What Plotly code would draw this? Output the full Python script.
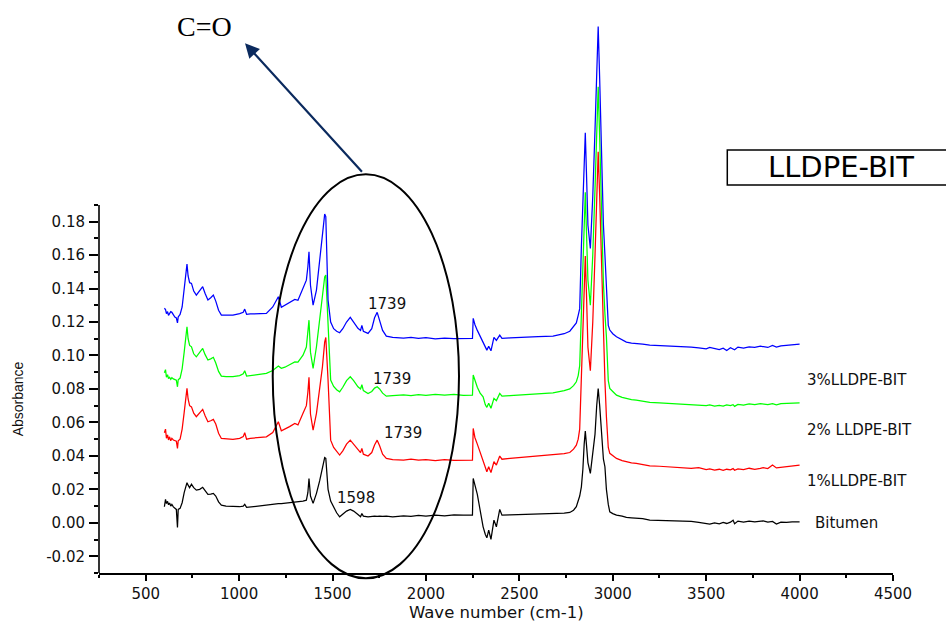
import plotly.graph_objects as go

# ---------------- data ----------------
wavenumber = [600, 606, 611, 617, 622, 628, 634, 640, 648, 656, 664, 670, 674, 684, 695, 706, 716, 721, 727, 735,
              745, 757, 771, 789, 805, 818, 833, 848, 862, 875, 890, 905, 930, 967, 1003, 1022, 1030, 1040, 1060, 1092,
              1146, 1180, 1200, 1210, 1226, 1245, 1270, 1298, 1315, 1342, 1360, 1368, 1374, 1382, 1396, 1414, 1431, 1446, 1458, 1464,
              1476, 1490, 1506, 1522, 1538, 1555, 1575, 1595, 1613, 1636, 1650, 1657, 1665, 1690, 1710, 1725, 1739, 1752, 1768, 1788,
              1822, 1880, 1920, 1960, 2000, 2050, 2100, 2150, 2200, 2249, 2253, 2262, 2275, 2290, 2306, 2318, 2326, 2336, 2348, 2364,
              2377, 2395, 2407, 2450, 2520, 2600, 2680, 2740, 2770, 2790, 2805, 2815, 2823, 2832, 2840, 2847, 2853, 2859, 2867, 2880,
              2893, 2905, 2914, 2922, 2930, 2940, 2950, 2958, 2966, 2976, 2984, 3000, 3020, 3050, 3073, 3100, 3126, 3160, 3198, 3250,
              3300, 3376, 3420, 3460, 3500, 3519, 3545, 3570, 3591, 3610, 3630, 3644, 3652, 3670, 3700, 3730, 3760, 3790, 3805, 3830,
              3855, 3876, 3900, 3930, 3960, 4000]

bitumen = [0.0096, 0.0140, 0.0115, 0.0128, 0.0108, 0.0118, 0.0100, 0.0110, 0.0095, 0.0085, 0.0080, -0.0028, 0.0080, 0.0086, 0.0120, 0.0180, 0.0225, 0.0240, 0.0225, 0.0210,
           0.0230, 0.0210, 0.0195, 0.0200, 0.0212, 0.0195, 0.0170, 0.0172, 0.0176, 0.0160, 0.0125, 0.0106, 0.0100, 0.0098, 0.0096, 0.0100, 0.0110, 0.0092, 0.0095, 0.0100,
           0.0106, 0.0110, 0.0113, 0.0114, 0.0115, 0.0117, 0.0120, 0.0124, 0.0126, 0.0130, 0.0135, 0.0180, 0.0265, 0.0160, 0.0116, 0.0176, 0.0250, 0.0340, 0.0390, 0.0385,
           0.0200, 0.0130, 0.0090, 0.0060, 0.0036, 0.0050, 0.0070, 0.0080, 0.0070, 0.0050, 0.0036, 0.0055, 0.0040, 0.0036, 0.0040, 0.0040, 0.0038, 0.0040, 0.0038, 0.0040,
           0.0036, 0.0042, 0.0038, 0.0044, 0.0040, 0.0046, 0.0042, 0.0048, 0.0046, 0.0046, 0.0265, 0.0230, 0.0170, 0.0076, -0.0024, -0.0070, -0.0090, -0.0044, -0.0099, 0.0016,
           -0.0024, 0.0080, 0.0046, 0.0048, 0.0050, 0.0052, 0.0054, 0.0058, 0.0062, 0.0075, 0.0096, 0.0125, 0.0160, 0.0215, 0.0320, 0.0470, 0.0548, 0.0470, 0.0360, 0.0295,
           0.0400, 0.0530, 0.0700, 0.0803, 0.0700, 0.0560, 0.0380, 0.0335, 0.0200, 0.0110, 0.0066, 0.0055, 0.0046, 0.0040, 0.0032, 0.0030, 0.0028, 0.0025, 0.0016, 0.0014,
           0.0010, 0.0006, 0.0008, 0.0002, -0.0004, -0.0008, 0.0000, -0.0006, 0.0002, -0.0004, 0.0004, 0.0016, -0.0006, 0.0010, 0.0004, 0.0010, 0.0006, 0.0012, 0.0012, 0.0004,
           0.0008, -0.0008, 0.0004, 0.0002, 0.0006, 0.0006]

lldpe_1 = [0.0538, 0.0560, 0.0505, 0.0525, 0.0495, 0.0514, 0.0490, 0.0505, 0.0495, 0.0490, 0.0488, 0.0445, 0.0490, 0.0500, 0.0560, 0.0660, 0.0770, 0.0803, 0.0740, 0.0700,
           0.0693, 0.0655, 0.0634, 0.0655, 0.0678, 0.0640, 0.0604, 0.0610, 0.0618, 0.0590, 0.0535, 0.0504, 0.0500, 0.0498, 0.0505, 0.0515, 0.0538, 0.0500, 0.0505, 0.0508,
           0.0514, 0.0540, 0.0585, 0.0604, 0.0550, 0.0560, 0.0575, 0.0594, 0.0585, 0.0654, 0.0700, 0.0780, 0.0869, 0.0650, 0.0554, 0.0654, 0.0800, 0.0932, 0.1080, 0.1108,
           0.0853, 0.0494, 0.0450, 0.0425, 0.0405, 0.0430, 0.0470, 0.0494, 0.0470, 0.0435, 0.0420, 0.0445, 0.0410, 0.0399, 0.0420, 0.0465, 0.0494, 0.0460, 0.0410, 0.0385,
           0.0378, 0.0375, 0.0380, 0.0374, 0.0378, 0.0372, 0.0377, 0.0373, 0.0376, 0.0375, 0.0564, 0.0510, 0.0470, 0.0420, 0.0375, 0.0325, 0.0305, 0.0335, 0.0300, 0.0365,
           0.0345, 0.0399, 0.0380, 0.0385, 0.0392, 0.0398, 0.0405, 0.0413, 0.0420, 0.0440, 0.0464, 0.0500, 0.0560, 0.0850, 0.1150, 0.1450, 0.1594, 0.1380, 0.1050, 0.0909,
           0.1200, 0.1600, 0.2000, 0.2217, 0.1950, 0.1500, 0.1042, 0.0850, 0.0634, 0.0450, 0.0415, 0.0400, 0.0385, 0.0372, 0.0365, 0.0358, 0.0355, 0.0350, 0.0340, 0.0338,
           0.0334, 0.0328, 0.0325, 0.0330, 0.0318, 0.0322, 0.0315, 0.0320, 0.0313, 0.0320, 0.0316, 0.0324, 0.0314, 0.0322, 0.0318, 0.0326, 0.0320, 0.0325, 0.0330, 0.0324,
           0.0345, 0.0328, 0.0332, 0.0335, 0.0338, 0.0345]

lldpe_2 = [0.0897, 0.0915, 0.0870, 0.0885, 0.0862, 0.0870, 0.0858, 0.0868, 0.0860, 0.0855, 0.0852, 0.0813, 0.0855, 0.0865, 0.0920, 0.1020, 0.1130, 0.1172, 0.1100, 0.1060,
           0.1052, 0.1010, 0.0992, 0.1015, 0.1042, 0.1005, 0.0973, 0.0980, 0.0989, 0.0955, 0.0905, 0.0877, 0.0873, 0.0873, 0.0880, 0.0890, 0.0909, 0.0877, 0.0880, 0.0885,
           0.0893, 0.0910, 0.0930, 0.0937, 0.0923, 0.0930, 0.0945, 0.0962, 0.0960, 0.1002, 0.1050, 0.1130, 0.1211, 0.1020, 0.0923, 0.1052, 0.1220, 0.1351, 0.1470, 0.1481,
           0.1172, 0.0853, 0.0815, 0.0795, 0.0783, 0.0810, 0.0850, 0.0873, 0.0850, 0.0813, 0.0800, 0.0825, 0.0790, 0.0773, 0.0785, 0.0805, 0.0813, 0.0800, 0.0775, 0.0757,
           0.0760, 0.0764, 0.0760, 0.0766, 0.0762, 0.0768, 0.0763, 0.0767, 0.0762, 0.0763, 0.0883, 0.0850, 0.0810, 0.0775, 0.0753, 0.0705, 0.0690, 0.0715, 0.0684, 0.0744,
           0.0730, 0.0773, 0.0757, 0.0760, 0.0765, 0.0770, 0.0777, 0.0790, 0.0800, 0.0820, 0.0843, 0.0880, 0.0940, 0.1250, 0.1550, 0.1850, 0.1975, 0.1750, 0.1450, 0.1301,
           0.1600, 0.2000, 0.2400, 0.2606, 0.2300, 0.1850, 0.1431, 0.1250, 0.1112, 0.0850, 0.0803, 0.0785, 0.0763, 0.0750, 0.0742, 0.0736, 0.0733, 0.0728, 0.0720, 0.0717,
           0.0714, 0.0708, 0.0706, 0.0702, 0.0700, 0.0704, 0.0698, 0.0702, 0.0697, 0.0705, 0.0700, 0.0706, 0.0696, 0.0708, 0.0703, 0.0710, 0.0706, 0.0712, 0.0710, 0.0706,
           0.0712, 0.0705, 0.0712, 0.0714, 0.0716, 0.0717]

lldpe_3 = [0.1282, 0.1275, 0.1250, 0.1262, 0.1240, 0.1255, 0.1262, 0.1258, 0.1245, 0.1230, 0.1225, 0.1195, 0.1230, 0.1245, 0.1290, 0.1390, 0.1500, 0.1546, 0.1475, 0.1435,
           0.1431, 0.1385, 0.1361, 0.1385, 0.1411, 0.1370, 0.1331, 0.1345, 0.1361, 0.1325, 0.1270, 0.1241, 0.1240, 0.1241, 0.1250, 0.1258, 0.1277, 0.1246, 0.1248, 0.1250,
           0.1252, 0.1290, 0.1335, 0.1351, 0.1288, 0.1300, 0.1315, 0.1335, 0.1330, 0.1401, 0.1450, 0.1530, 0.1620, 0.1420, 0.1301, 0.1391, 0.1560, 0.1700, 0.1845, 0.1830,
           0.1331, 0.1200, 0.1160, 0.1145, 0.1136, 0.1160, 0.1200, 0.1228, 0.1200, 0.1162, 0.1150, 0.1180, 0.1145, 0.1132, 0.1160, 0.1225, 0.1258, 0.1215, 0.1150, 0.1116,
           0.1108, 0.1104, 0.1108, 0.1102, 0.1106, 0.1100, 0.1104, 0.1101, 0.1100, 0.1102, 0.1222, 0.1185, 0.1150, 0.1115, 0.1082, 0.1045, 0.1032, 0.1055, 0.1028, 0.1108,
           0.1090, 0.1122, 0.1102, 0.1105, 0.1110, 0.1112, 0.1116, 0.1130, 0.1145, 0.1170, 0.1195, 0.1240, 0.1280, 0.1650, 0.1950, 0.2200, 0.2331, 0.2100, 0.1780, 0.1640,
           0.1950, 0.2350, 0.2750, 0.2966, 0.2650, 0.2150, 0.1780, 0.1600, 0.1431, 0.1180, 0.1152, 0.1130, 0.1112, 0.1095, 0.1080, 0.1074, 0.1072, 0.1068, 0.1062, 0.1060,
           0.1057, 0.1052, 0.1050, 0.1046, 0.1040, 0.1048, 0.1040, 0.1035, 0.1044, 0.1030, 0.1046, 0.1040, 0.1034, 0.1050, 0.1044, 0.1052, 0.1048, 0.1056, 0.1052, 0.1048,
           0.1060, 0.1050, 0.1058, 0.1062, 0.1065, 0.1068]

series_names = ["Bitumen", "1%LLDPE-BIT", "2% LLDPE-BIT", "3%LLDPE-BIT"]
series_colors = ["#000000", "#FF0000", "#00FF00", "#0000FF"]

y_tick_values = [-0.02, 0.00, 0.02, 0.04, 0.06, 0.08, 0.10, 0.12, 0.14, 0.16, 0.18]
y_minor_values = [-0.03, -0.01, 0.01, 0.03, 0.05, 0.07, 0.09, 0.11, 0.13, 0.15, 0.17, 0.19]
x_tick_values = [500, 1000, 1500, 2000, 2500, 3000, 3500, 4000, 4500]
x_minor_values = [250, 750, 1250, 1750, 2250, 2750, 3250, 3750, 4250]

peak_labels = ["1739", "1739", "1739", "1598"]

# ---------------- figure ----------------
fig = go.Figure()
for name, ys, col in zip(series_names, [bitumen, lldpe_1, lldpe_2, lldpe_3], series_colors):
    fig.add_trace(go.Scatter(x=wavenumber, y=ys, mode="lines", name=name,
                             line=dict(color=col, width=1.25), showlegend=False))

Y_MIN, Y_MAX = -0.03, 0.3005
AXIS_TOP = 0.19


def ypaper(v):
    return (v - Y_MIN) / (Y_MAX - Y_MIN)


tick_font = dict(family="DejaVu Sans", size=15, color="#111111")

fig.update_layout(
    width=946, height=624,
    margin=dict(l=99, r=53, t=20, b=51),
    paper_bgcolor="white", plot_bgcolor="white",
    xaxis=dict(range=[250, 4500], showgrid=False, zeroline=False,
               showline=True, linecolor="black", linewidth=1.6,
               tickmode="array", tickvals=x_tick_values,
               ticktext=[str(v) for v in x_tick_values],
               ticks="outside", ticklen=6, tickwidth=1.5, tickcolor="black",
               ticklabelstandoff=0, tickfont=tick_font,
               minor=dict(tickmode="array", tickvals=x_minor_values, ticks="outside",
                          ticklen=3, tickwidth=1.5, tickcolor="black")),
    yaxis=dict(range=[Y_MIN, Y_MAX], showgrid=False, zeroline=False, showline=False,
               tickmode="array", tickvals=y_tick_values,
               ticktext=[f"{v:.2f}" for v in y_tick_values],
               ticks="outside", ticklen=9, tickwidth=1.5, tickcolor="black",
               ticklabelstandoff=1, tickfont=tick_font,
               minor=dict(tickmode="array", tickvals=y_minor_values, ticks="outside",
                          ticklen=4.5, tickwidth=1.5, tickcolor="black")),
)

# y axis line only up to 0.19
fig.add_shape(type="line", xref="paper", yref="paper", x0=0, x1=0,
              y0=0, y1=ypaper(AXIS_TOP), line=dict(color="black", width=1.6))

# ellipse around carbonyl region
fig.add_shape(type="circle", xref="paper", yref="paper",
              x0=0.2188, x1=0.4534, y0=-0.0096, y1=0.721,
              line=dict(color="black", width=2))

# LLDPE-BIT box
fig.add_shape(type="rect", xref="paper", yref="paper",
              x0=0.7913, x1=1.07, y0=0.7016, y1=0.7649,
              line=dict(color="black", width=1.5), fillcolor="white")

ann = []


def label(text, x, y, font, xanchor="center", **kw):
    d = dict(text=text, x=x, y=y, xref="paper", yref="paper", xanchor=xanchor,
             yanchor="middle", showarrow=False, font=font)
    d.update(kw)
    ann.append(d)


# axis titles
label("Wave number (cm-1)", 0.5, -0.0723, dict(family="DejaVu Sans", size=16.5, color="#111111"))
label("Absorbance", -0.1016, 0.3146, dict(family="Liberation Sans", size=14, color="#111111"),
      textangle=-90)
# series labels
label_pos = [(0.8996, 0.0899), (0.8892, 0.1664), (0.8892, 0.2586), (0.8892, 0.349)]
for name, (lx, ly) in zip(series_names, label_pos):
    label(name, lx, ly, dict(family="DejaVu Sans", size=15, color="#111111"), xanchor="left")
# peak labels
peak_pos = [(0.3623, 0.4859), (0.3686, 0.3503), (0.3832, 0.2537), (0.3233, 0.1351)]
for t, (px_, py_) in zip(peak_labels, peak_pos):
    label(t, px_, py_, dict(family="DejaVu Sans", size=15, color="#111111"))
# box title
label("LLDPE-BIT", 0.9349, 0.7333, dict(family="DejaVu Sans", size=29, color="black"))
# C=O label and arrow
label("C=O", 0.1331, 0.9886, dict(family="Liberation Serif", size=28, color="black"))
ann.append(dict(text="", x=0.1839, y=0.9579, xref="paper", yref="paper",
                showarrow=True, ax=118.3, ay=130, arrowhead=2, arrowsize=1.3,
                arrowwidth=2.2, arrowcolor="#0B2A5E", standoff=0, startstandoff=0))
fig.update_layout(annotations=ann)

fig.write_html("out.html", config={"displayModeBar": False})
